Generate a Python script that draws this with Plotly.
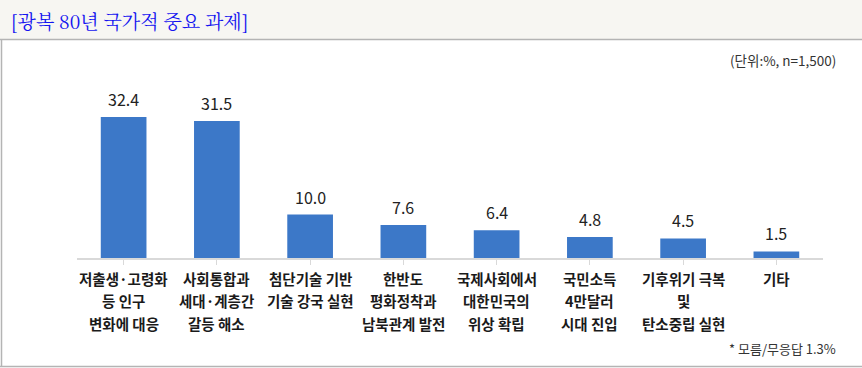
import plotly.graph_objects as go

categories = [
    "저출생·고령화<br>등 인구<br>변화에 대응",
    "사회통합과<br>세대·계층간<br>갈등 해소",
    "첨단기술 기반<br>기술 강국 실현",
    "한반도<br>평화정착과<br>남북관계 발전",
    "국제사회에서<br>대한민국의<br>위상 확립",
    "국민소득<br>4만달러<br>시대 진입",
    "기후위기 극복<br>및<br>탄소중립 실현",
    "기타",
]
values = [32.4, 31.5, 10.0, 7.6, 6.4, 4.8, 4.5, 1.5]
title_text = "[광복 80년 국가적 중요 과제]"
unit_text = "(단위:%, n=1,500)"
foot_text = "* 모름/무응답 1.3%"

W, H = 862, 368
L, R, T, B = 77, 39, 84, 110
PW, PH = W - L - R, H - T - B
FONT = "Noto Sans CJK KR"

def px_x(px):
    return (px - L) / PW

def px_y(py):
    return (H - B - py) / PH

x_idx = list(range(len(categories)))

fig = go.Figure()
fig.add_trace(go.Bar(
    x=x_idx, y=values, width=0.49,
    marker=dict(color="#3c78c8", line=dict(width=0)),
    hoverinfo="skip",
))

annotations = []
for i, v in zip(x_idx, values):
    annotations.append(dict(
        x=i, y=v, xref="x", yref="y", text=f"{v:.1f}", showarrow=False,
        yanchor="middle", yshift=18,
        font=dict(family=FONT, size=16, color="#222222"),
    ))
for i, cat in zip(x_idx, categories):
    for j, line in enumerate(cat.split("<br>")):
        annotations.append(dict(
            x=i, y=0, xref="x", yref="y", text=line, showarrow=False,
            yanchor="middle", yshift=-20 - 22.5 * j,
            font=dict(family=FONT, size=14.5, color="#1a1a1a", weight="bold"),
        ))
annotations.append(dict(
    x=px_x(9), y=px_y(20), xref="paper", yref="paper", text=title_text,
    showarrow=False, xanchor="left", yanchor="middle",
    font=dict(family="Noto Serif CJK KR, Noto Sans CJK KR", size=19, color="#1414f0"),
))
annotations.append(dict(
    x=px_x(838), y=px_y(60), xref="paper", yref="paper", text=unit_text,
    showarrow=False, xanchor="right", yanchor="middle",
    font=dict(family=FONT, size=13.5, color="#333333"),
))
annotations.append(dict(
    x=px_x(838), y=px_y(348), xref="paper", yref="paper", text=foot_text,
    showarrow=False, xanchor="right", yanchor="middle",
    font=dict(family=FONT, size=13, color="#333333"),
))

shapes = [
    dict(type="rect", xref="paper", yref="paper", layer="below",
         x0=px_x(0), x1=px_x(W), y0=px_y(39.5), y1=px_y(0),
         fillcolor="#f7f6f2", line=dict(width=0)),
    dict(type="line", xref="paper", yref="paper",
         x0=px_x(0), x1=px_x(W), y0=px_y(39.5), y1=px_y(39.5),
         line=dict(color="#b4b4b4", width=1.5)),
    dict(type="line", xref="paper", yref="paper",
         x0=px_x(1.5), x1=px_x(1.5), y0=px_y(39.5), y1=px_y(366.5),
         line=dict(color="#b4b4b4", width=1.5)),
    dict(type="line", xref="paper", yref="paper",
         x0=px_x(0), x1=px_x(W), y0=px_y(366.5), y1=px_y(366.5),
         line=dict(color="#b4b4b4", width=1.5)),
]

fig.update_layout(
    width=W, height=H,
    margin=dict(l=L, r=R, t=T, b=B, pad=0),
    paper_bgcolor="white", plot_bgcolor="white",
    showlegend=False,
    annotations=annotations, shapes=shapes,
    bargap=0.51,
    xaxis=dict(
        range=[-0.5, len(categories) - 0.5],
        tickmode="array", tickvals=x_idx, ticktext=[""] * len(categories),
        tickson="boundaries", ticks="outside", ticklen=5, tickcolor="#d9d9d9",
        showline=True, linecolor="#d9d9d9", linewidth=1.5,
        showgrid=False, zeroline=False, fixedrange=True,
    ),
    yaxis=dict(
        range=[0, 40], visible=False, showgrid=False, zeroline=False, fixedrange=True,
    ),
)

post = ("document.body.style.margin='0';document.body.style.padding='0';"
        "document.documentElement.style.overflow='hidden';")
fig.write_html("out.html", config={"displayModeBar": False}, post_script=post)
